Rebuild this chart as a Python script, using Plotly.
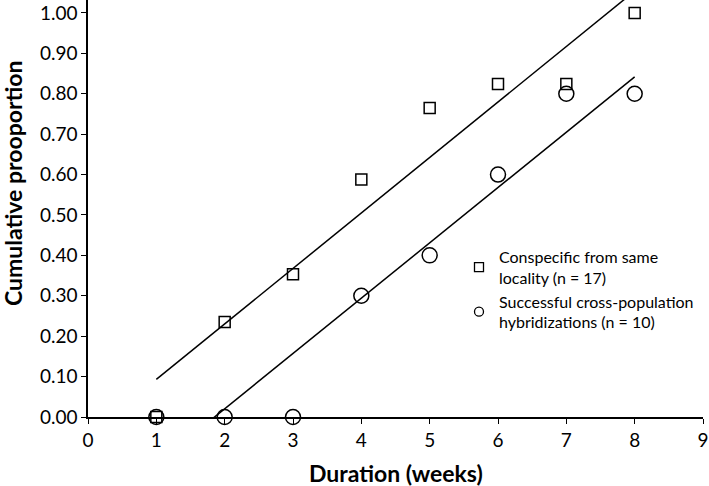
import numpy as np
import plotly.graph_objects as go

weeks = [1, 2, 3, 4, 5, 6, 7, 8]
conspecific = [0.0, 0.235, 0.353, 0.588, 0.765, 0.824, 0.824, 1.0]
cross_pop = [0.0, 0.0, 0.0, 0.30, 0.40, 0.60, 0.80, 0.80]
x_ticks = list(range(0, 10))
y_ticks = [round(0.1 * i, 2) for i in range(11)]
name_con = "Conspecific from same<br>locality (n = 17)"
name_cross = "Successful cross-population<br>hybridizations (n = 10)"
x_title = "Duration (weeks)"
y_title = "Cumulative prooportion"

FONT = "Lato"
W, H = 709, 486
ML, MR, MT, MB = 88, 6, 0, 69
PW, PH = W - ML - MR, H - MT - MB


def fit(x, y):
    s, b = np.polyfit(x, y, 1)
    return [s * v + b for v in x]


fig = go.Figure()
# trend lines (linear regression)
fig.add_trace(go.Scatter(x=weeks, y=fit(weeks, conspecific), mode="lines",
                         line=dict(color="black", width=1.5), showlegend=False,
                         hoverinfo="skip"))
fig.add_trace(go.Scatter(x=weeks, y=fit(weeks, cross_pop), mode="lines",
                         line=dict(color="black", width=1.5), showlegend=False,
                         hoverinfo="skip"))
fig.add_trace(go.Scatter(x=weeks, y=conspecific, mode="markers", showlegend=False,
                         marker=dict(symbol="square-open", size=11, color="black",
                                     line=dict(width=1.5)),
                         cliponaxis=False))
fig.add_trace(go.Scatter(x=weeks, y=cross_pop, mode="markers", showlegend=False,
                         marker=dict(symbol="circle-open", size=15, color="black",
                                     line=dict(width=1.5)),
                         cliponaxis=False))
# legend entries (smaller symbols, as in the original)
fig.add_trace(go.Scatter(x=[None], y=[None], mode="markers", name=name_con,
                         marker=dict(symbol="square-open", size=9, color="black",
                                     line=dict(width=1.3))))
fig.add_trace(go.Scatter(x=[None], y=[None], mode="markers", name=name_cross,
                         marker=dict(symbol="circle-open", size=9, color="black",
                                     line=dict(width=1.3))))

fig.add_annotation(text="<b>" + x_title + "</b>", xref="paper", yref="paper",
                   x=(396 - ML) / PW, y=-(473 - MT - PH) / PH,
                   xanchor="center", yanchor="middle", showarrow=False,
                   font=dict(family=FONT, size=23, color="black"))
fig.add_annotation(text="<b>" + y_title + "</b>", xref="paper", yref="paper",
                   x=(13 - ML) / PW, y=(MT + PH - 183) / PH, textangle=-90,
                   xanchor="center", yanchor="middle", showarrow=False,
                   font=dict(family=FONT, size=23, color="black"))

fig.update_layout(
    width=W, height=H,
    margin=dict(l=ML, r=MR, t=MT, b=MB),
    paper_bgcolor="white", plot_bgcolor="white",
    font=dict(family=FONT, color="black", size=16),
    legend=dict(x=(459 - ML) / PW, y=0.305, xanchor="left", yanchor="middle",
                font=dict(family=FONT, size=16), bgcolor="rgba(0,0,0,0)",
                tracegroupgap=0),
    xaxis=dict(range=[0, 9], tickvals=x_ticks, showgrid=False, zeroline=False,
               showline=True, linecolor="black", linewidth=1.5, automargin=False,
               ticks="outside", ticklen=5, tickcolor="black", tickwidth=1,
               tickfont=dict(size=19), ticklabeloverflow="allow"),
    yaxis=dict(range=[0, 1.032], tickvals=y_ticks, tickformat=".2f", showgrid=False,
               zeroline=False, showline=True, linecolor="black", linewidth=1.5,
               automargin=False,
               ticks="outside", ticklen=5, tickcolor="black", tickwidth=1,
               tickfont=dict(size=19)),
)

fig.write_html("out.html", config={"displayModeBar": False},
               post_script="document.body.style.margin='0';document.body.style.overflow='hidden';")
